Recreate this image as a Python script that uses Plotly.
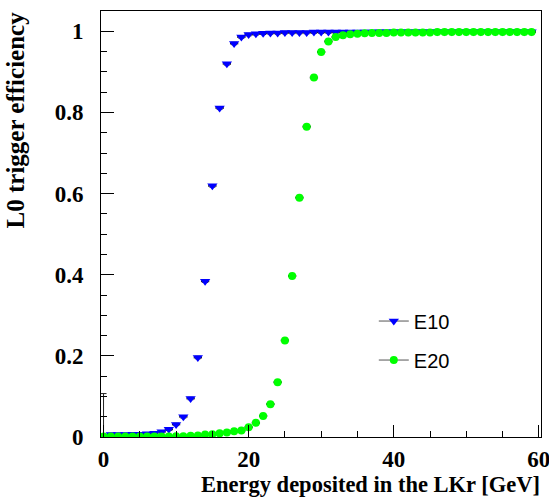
import plotly.graph_objects as go

# ---------------- data ----------------
energy = list(range(60))

eff_e10 = [0.000, 0.006, 0.006, 0.006, 0.007, 0.007, 0.008, 0.009, 0.013, 0.019,
           0.031, 0.050, 0.095, 0.196, 0.384, 0.619, 0.811, 0.920, 0.970, 0.986,
           0.992, 0.994, 0.995, 0.996, 0.996, 0.997, 0.997, 0.997, 0.997, 0.998,
           0.998, 0.998, 0.998, 0.998, 0.998, 0.998, 0.998, 0.998, 0.999, 0.999,
           0.999, 0.999, 0.999, 0.999, 0.999, 0.999, 0.999, 0.999, 0.999, 0.999,
           0.999, 0.999, 0.999, 0.999, 0.999, 0.999, 0.999, 0.999, 0.999, 0.999]
err_e10_up = [0.107] + [0.003] * 59
err_e10_dn = [0.000] + [0.003] * 59

eff_e20 = [0.001, 0.001, 0.001, 0.001, 0.001, 0.001, 0.001, 0.001, 0.001, 0.001,
           0.002, 0.002, 0.003, 0.004, 0.006, 0.007, 0.009, 0.011, 0.014, 0.016,
           0.024, 0.035, 0.052, 0.081, 0.135, 0.238, 0.397, 0.590, 0.765, 0.886,
           0.949, 0.975, 0.986, 0.990, 0.993, 0.994, 0.995, 0.996, 0.996, 0.996,
           0.997, 0.997, 0.997, 0.997, 0.997, 0.997, 0.998, 0.998, 0.998, 0.998,
           0.998, 0.998, 0.998, 0.998, 0.998, 0.998, 0.998, 0.998, 0.998, 0.998]
err_e20 = [0.003] * 60

x_half_width = [0.5] * 60

series_names = ["E10", "E20"]
x_tick_vals = [0, 20, 40, 60]
y_tick_vals = [0, 0.2, 0.4, 0.6, 0.8, 1.0]
y_tick_text = ["0", "0.2", "0.4", "0.6", "0.8", "1"]

BLUE = "#0000ff"
GREEN = "#00ff00"
ERR = "#222222"

fig = go.Figure()

fig.add_trace(go.Scatter(
    x=energy, y=eff_e10, mode="markers", name=series_names[0], showlegend=False,
    marker=dict(symbol="triangle-down", size=9, color=BLUE, line=dict(width=0)),
    error_x=dict(type="data", array=x_half_width, color=ERR, thickness=1, width=1),
    error_y=dict(type="data", array=err_e10_up, arrayminus=err_e10_dn, symmetric=False,
                 color=ERR, thickness=1, width=3),
))
fig.add_trace(go.Scatter(
    x=energy, y=eff_e20, mode="markers", name=series_names[1], showlegend=False,
    marker=dict(symbol="circle", size=8, color=GREEN, line=dict(width=0)),
    error_x=dict(type="data", array=x_half_width, color=ERR, thickness=1, width=1),
    error_y=dict(type="data", array=err_e20, color=ERR, thickness=1, width=1),
))

# legend entries
for name, col, sym, sz in [(series_names[0], BLUE, "triangle-down", 9),
                            (series_names[1], GREEN, "circle", 8)]:
    fig.add_trace(go.Scatter(
        x=[None], y=[None], mode="lines+markers", name=name, legendgroup=name,
        line=dict(color="#555555", width=1),
        marker=dict(symbol=sym, size=sz, color=col),
    ))

axis_common = dict(
    showline=True, linecolor="black", linewidth=1, mirror=True,
    showgrid=False, zeroline=False, ticks="inside", tickcolor="black",
    tickwidth=1, ticklabeloverflow="allow", automargin=False,
    tickfont=dict(family="Liberation Serif", size=23, color="black", weight="bold"),
)

fig.update_xaxes(
    **axis_common, range=[-0.35, 60.3], tickvals=x_tick_vals, ticklen=12,
    minor=dict(dtick=5, tick0=0, ticklen=6, ticks="inside", tickcolor="black", showgrid=False),
    ticklabelstandoff=1,
)
fig.update_yaxes(
    **axis_common, range=[0, 1.05], tickvals=y_tick_vals, ticktext=y_tick_text, ticklen=13,
    minor=dict(dtick=0.05, tick0=0, ticklen=6, ticks="inside", tickcolor="black", showgrid=False),
    ticklabelstandoff=12,
)

fig.update_layout(
    width=549, height=498,
    margin=dict(l=101, r=8, t=11, b=61, autoexpand=False),
    paper_bgcolor="white", plot_bgcolor="white",
    showlegend=True,
    legend=dict(x=0.62, y=0.318, xanchor="left", yanchor="top",
                font=dict(family="Liberation Sans", size=20, color="black"),
                bgcolor="rgba(0,0,0,0)", tracegroupgap=10, itemwidth=30,
                traceorder="grouped"),
    annotations=[
        dict(text="Energy deposited in the LKr [GeV]", xref="paper", yref="paper",
             x=1.0, y=-0.143, xanchor="right", yanchor="bottom", showarrow=False,
             borderpad=0,
             font=dict(family="Liberation Serif", size=22.5, color="black", weight="bold")),
        dict(text="L0 trigger efficiency", xref="paper", yref="paper",
             x=-0.195, y=1.003, xanchor="center", yanchor="top", textangle=-90, showarrow=False,
             font=dict(family="Liberation Serif", size=25, color="black", weight="bold")),
    ],
)

fig.write_html("out.html", config={"displayModeBar": False},
               post_script="document.body.style.margin='0';")
